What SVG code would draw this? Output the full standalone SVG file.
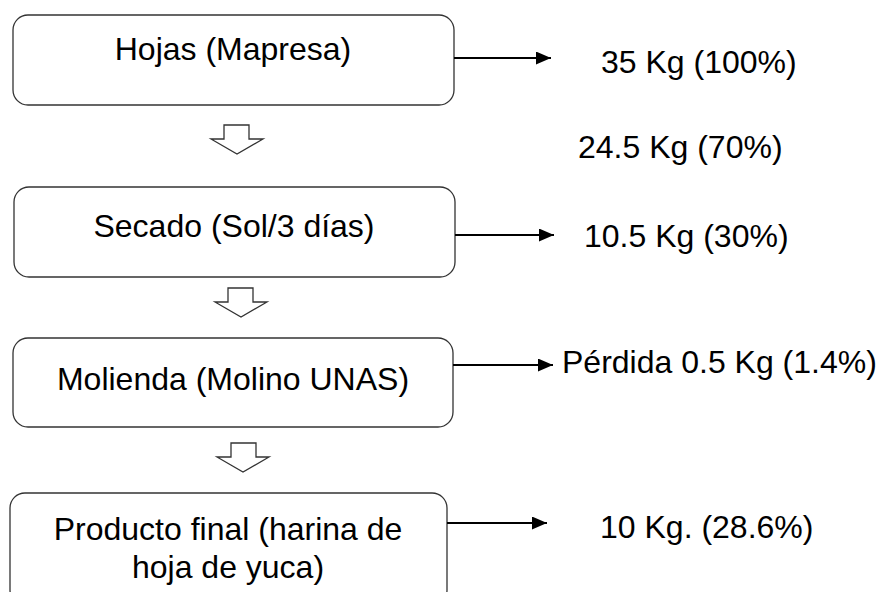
<svg xmlns="http://www.w3.org/2000/svg" width="878" height="592" viewBox="0 0 878 592">
<style>
.box{fill:#fff;stroke:#333;stroke-width:1.3}
.t{font-family:"Liberation Sans",Arial,sans-serif;font-size:32px;fill:#000}
.c{text-anchor:middle}
.con{stroke:#000;stroke-width:2;fill:none}
.blk{fill:#fff;stroke:#333;stroke-width:1.3}
</style>
<defs>
<marker id="ah" markerWidth="15" markerHeight="13" refX="15" refY="6.5" orient="auto" markerUnits="userSpaceOnUse">
<path d="M0,0 L15,6.5 L0,13 Z" fill="#000"/>
</marker>
</defs>
<rect width="878" height="592" fill="#fff"/>
<g id="n1"><rect class="box" x="13" y="15" width="441" height="90" rx="15"/><text class="t c" x="233" y="60">Hojas (Mapresa)</text></g>
<g id="n2"><rect class="box" x="14" y="187" width="441" height="90" rx="15"/><text class="t c" x="234" y="237">Secado (Sol/3 días)</text></g>
<g id="n3"><rect class="box" x="13" y="338" width="440" height="89" rx="15"/><text class="t c" x="233" y="390">Molienda (Molino UNAS)</text></g>
<g id="n4"><rect class="box" x="10" y="493" width="437" height="112" rx="15"/><text class="t c" x="228" y="540">Producto final (harina de</text><text class="t c" x="228" y="578">hoja de yuca)</text></g>
<g id="l1"><text class="t" x="601" y="73">35 Kg (100%)</text></g>
<g id="l2"><text class="t" x="578" y="158">24.5 Kg (70%)</text></g>
<g id="l3"><text class="t" x="584" y="247">10.5 Kg (30%)</text></g>
<g id="l4"><text class="t" x="562" y="373">Pérdida 0.5 Kg (1.4%)</text></g>
<g id="l5"><text class="t" x="600" y="538">10 Kg. (28.6%)</text></g>
<g id="connectors">
<line class="con" x1="454" y1="58" x2="551" y2="58" marker-end="url(#ah)"/>
<line class="con" x1="455" y1="235" x2="554" y2="235" marker-end="url(#ah)"/>
<line class="con" x1="453" y1="365" x2="553" y2="365" marker-end="url(#ah)"/>
<line class="con" x1="447" y1="523" x2="547" y2="523" marker-end="url(#ah)"/>
<path class="blk" d="M224,125 H249 V139 H263 L237,154 L211,139 H224 Z"/>
<path class="blk" d="M228,288 H253 V302 H267 L241,317 L215,302 H228 Z"/>
<path class="blk" d="M231,443 H256 V457 H269 L243,472 L217,457 H231 Z"/>
</g>
</svg>
